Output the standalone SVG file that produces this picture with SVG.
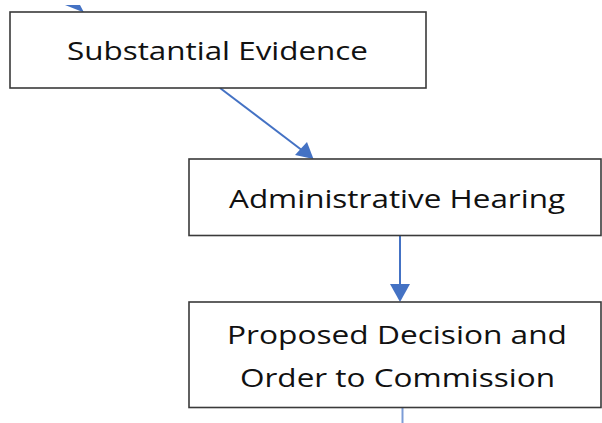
<svg xmlns="http://www.w3.org/2000/svg" width="602" height="423" viewBox="0 0 602 423">
<style>
.box{fill:#ffffff;stroke:#3a3a3a;stroke-width:1.6}
.lbl{font-family:"Open Sans","Lato","Liberation Sans",sans-serif;font-size:25.5px;fill:#111111;text-anchor:middle}
.conn{stroke:#4472C4;stroke-width:2;fill:none}
.head{fill:#4472C4}
</style>
<rect width="602" height="423" fill="#ffffff"/>
<g id="connectors">
<polygon class="head" points="65,5 80,5 84,12.5"/>
<line class="conn" x1="220" y1="88" x2="303" y2="151"/>
<polygon class="head" points="313.5,159 295,155 307,142"/>
<line class="conn" x1="400" y1="235.5" x2="400" y2="286"/>
<polygon class="head" points="390,284 410,284 400,302"/>
<line class="conn" x1="402.5" y1="408" x2="402.5" y2="423" stroke-opacity="0.7"/>
</g>
<g id="node-substantial-evidence">
<rect class="box" x="10" y="12" width="416" height="76"/>
<text class="lbl" x="217.5" y="60" textLength="301" lengthAdjust="spacingAndGlyphs">Substantial Evidence</text>
</g>
<g id="node-administrative-hearing">
<rect class="box" x="189" y="159" width="412" height="76.5"/>
<text class="lbl" x="397" y="208" textLength="336" lengthAdjust="spacingAndGlyphs">Administrative Hearing</text>
</g>
<g id="node-proposed-decision">
<rect class="box" x="189" y="302" width="412" height="105.5"/>
<text class="lbl" x="397" y="344" textLength="340" lengthAdjust="spacingAndGlyphs">Proposed Decision and</text>
<text class="lbl" x="397.5" y="387" textLength="315" lengthAdjust="spacingAndGlyphs">Order to Commission</text>
</g>
</svg>
